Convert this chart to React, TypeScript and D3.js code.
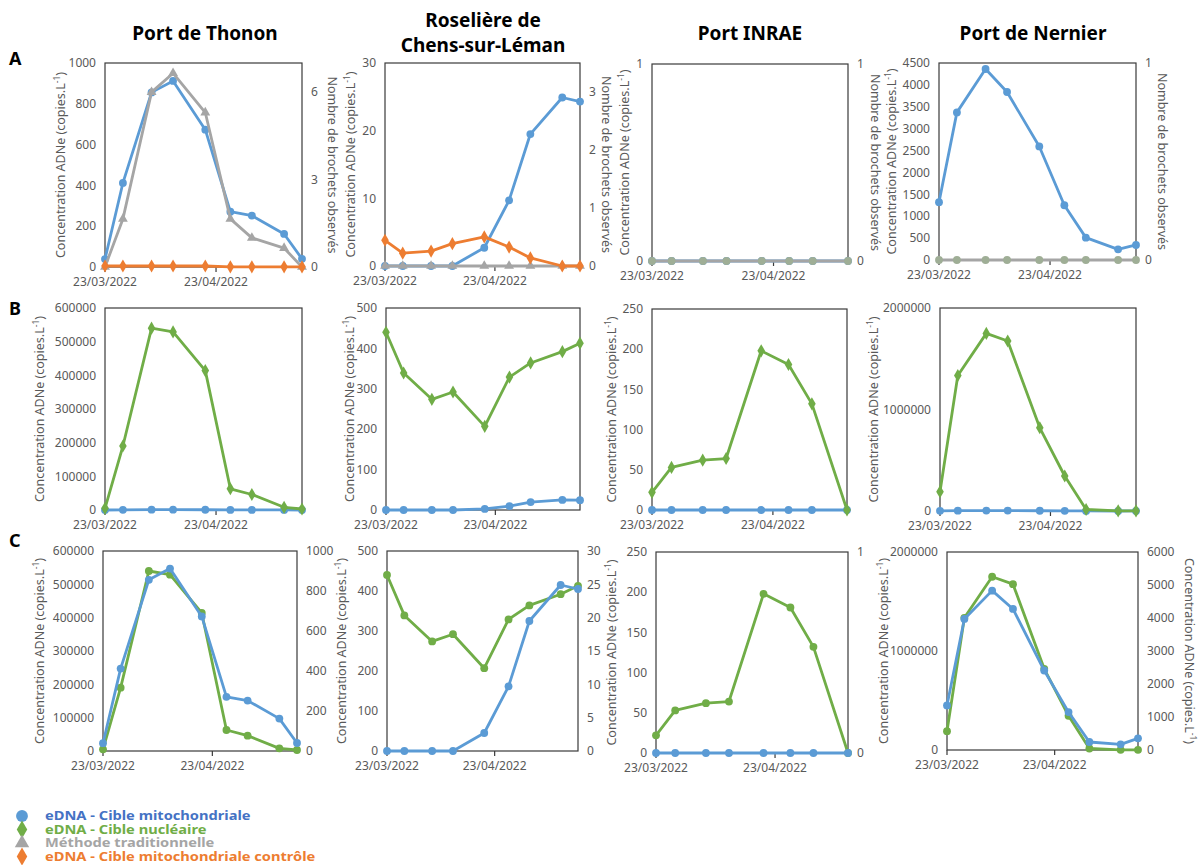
import * as d3 from 'd3';

const BLUE = '#5B9BD5';
const GREEN = '#70AD47';
const GREY = '#A5A5A5';
const ORANGE = '#ED7D31';
const FONT = '"Noto Sans", sans-serif';

const siteTitles = [['Port de Thonon'], ['Roselière de', 'Chens-sur-Léman'], ['Port INRAE'], ['Port de Nernier']];
const rowLetters = ['A', 'B', 'C'];

// sampling dates
const datesFull = ['2022-03-23', '2022-03-28', '2022-04-05', '2022-04-11', '2022-04-20', '2022-04-27', '2022-05-03', '2022-05-12', '2022-05-17'];
const datesInrae = ['2022-03-23', '2022-03-28', '2022-04-05', '2022-04-11', '2022-04-20', '2022-04-27', '2022-05-03', '2022-05-12'];
const dateTicks = ['2022-03-23', '2022-04-23'];

// Port de Thonon
const thononMito = [39, 412, 856, 912, 673, 271, 252, 162, 40];
const thononNuc = [5000, 190000, 540000, 529000, 414000, 63000, 46000, 8000, 3000];
const thononTrad = [0, 1.65, 6, 6.65, 5.3, 1.65, 1.0, 0.65, 0];
const thononCtrl = [5, 5, 5, 5, 5, 1, 1, 1, 1];

// Roselière de Chens-sur-Léman
const chensMito = [0, 0, 0, 0, 2.7, 9.7, 19.5, 24.9, 24.3];
const chensNuc = [440, 339, 274, 292, 207, 329, 364, 392, 413];
const chensTrad = [0, 0, 0, 0, 0, 0, 0, 0, 0];
const chensCtrl = [3.8, 1.9, 2.2, 3.3, 4.3, 2.8, 1.2, 0, 0];

// Port INRAE
const inraeMito = [0, 0, 0, 0, 0, 0, 0, 0];
const inraeNuc = [22, 53, 62, 64, 198, 181, 132, 0];
const inraeTrad = [0, 0, 0, 0, 0, 0, 0, 0];

// Port de Nernier
const nernierMito = [1320, 3372, 4363, 3837, 2594, 1251, 511, 244, 343];
const nernierMitoC = [1351, 3972, 4829, 4274, 2409, 1149, 242, 171, 353];
const nernierNuc = [190000, 1335000, 1750000, 1675000, 820000, 345000, 15000, 2000, 2000];
const nernierTrad = [0, 0, 0, 0, 0, 0, 0, 0, 0];

// y tick labels
const ticksThononA = [0, 200, 400, 600, 800, 1000];
const ticksThononTrad = [0, 3, 6];
const ticksChensA = [0, 10, 20, 30];
const ticksChensTrad = [0, 1, 2, 3];
const ticksUnit = [0, 1];
const ticksNernierA = [0, 500, 1000, 1500, 2000, 2500, 3000, 3500, 4000, 4500];
const ticksThononNuc = [0, 100000, 200000, 300000, 400000, 500000, 600000];
const ticksChensNuc = [0, 100, 200, 300, 400, 500];
const ticksInraeNuc = [0, 50, 100, 150, 200, 250];
const ticksNernierNuc = [0, 1000000, 2000000];
const ticksThononC = [0, 200, 400, 600, 800, 1000];
const ticksChensC = [0, 5, 10, 15, 20, 25, 30];
const ticksNernierC = [0, 1000, 2000, 3000, 4000, 5000, 6000];

const legendItems = [
  { label: 'eDNA - Cible mitochondriale', color: BLUE, text: '#4472C4', shape: 'circle' },
  { label: 'eDNA - Cible nucléaire', color: GREEN, text: GREEN, shape: 'diamond' },
  { label: 'Méthode traditionnelle', color: GREY, text: GREY, shape: 'triangle' },
  { label: 'eDNA - Cible mitochondriale contrôle', color: ORANGE, text: ORANGE, shape: 'diamond' },
];

const parse = d3.timeParse('%Y-%m-%d');

const shapes: any = {
  circle: [d3.symbolCircle, 48],
  diamond: [d3.symbolDiamond, 50],
  triangle: [d3.symbolTriangle, 42],
};

const s = (values, axis, color, shape, markerColor?) => ({ values, axis, color, shape, markerColor: markerColor || color });

const panels = [
  // row A
  { x0: 105, x1: 302, y0: 63, y1: 267, dates: datesFull, left: [0, 1000], lt: ticksThononA, right: [0, 7], rt: ticksThononTrad,
    lTitle: ['conc', 44], rTitle: ['nombre', 30],
    series: [s(thononMito, 'l', BLUE, 'circle'), s(thononTrad, 'r', GREY, 'triangle'), s(thononCtrl, 'l', ORANGE, 'diamond')] },
  { x0: 385, x1: 580, y0: 63, y1: 266, dates: datesFull, left: [0, 30], lt: ticksChensA, right: [0, 3.5], rt: ticksChensTrad,
    lTitle: ['conc', 34], rTitle: ['nombre', 26],
    series: [s(chensMito, 'l', BLUE, 'circle'), s(chensTrad, 'r', GREY, 'triangle'), s(chensCtrl, 'l', ORANGE, 'diamond')] },
  { x0: 652, x1: 848, y0: 64, y1: 261, dates: datesInrae, left: [0, 1], lt: ticksUnit, right: [0, 1], rt: ticksUnit,
    lTitle: ['conc', 27], rTitle: ['nombre', 27],
    series: [s(inraeMito, 'l', BLUE, 'circle'), s(inraeTrad, 'r', GREY, 'circle', '#9FAE96')] },
  { x0: 939, x1: 1136, y0: 63, y1: 260, dates: datesFull, left: [0, 4500], lt: ticksNernierA, right: [0, 1], rt: ticksUnit,
    lTitle: ['conc', 47], rTitle: ['nombre', 26],
    series: [s(nernierMito, 'l', BLUE, 'circle'), s(nernierTrad, 'r', GREY, 'circle', '#9FAE96')] },
  // row B
  { x0: 105, x1: 302, y0: 308, y1: 510, dates: datesFull, left: [0, 600000], lt: ticksThononNuc,
    lTitle: ['conc', 65], series: [s(thononMito, 'l', BLUE, 'circle'), s(thononNuc, 'l', GREEN, 'diamond')] },
  { x0: 386, x1: 580, y0: 308, y1: 510, dates: datesFull, left: [0, 500], lt: ticksChensNuc,
    lTitle: ['conc', 36], series: [s(chensMito, 'l', BLUE, 'circle'), s(chensNuc, 'l', GREEN, 'diamond')] },
  { x0: 652, x1: 847, y0: 309, y1: 510, dates: datesInrae, left: [0, 250], lt: ticksInraeNuc,
    lTitle: ['conc', 40], series: [s(inraeMito, 'l', BLUE, 'circle'), s(inraeNuc, 'l', GREEN, 'diamond')] },
  { x0: 940, x1: 1136, y0: 308, y1: 511, dates: datesFull, left: [0, 2000000], lt: ticksNernierNuc,
    lTitle: ['conc', 66], series: [s(nernierMito, 'l', BLUE, 'circle'), s(nernierNuc, 'l', GREEN, 'diamond')] },
  // row C
  { x0: 103, x1: 297, y0: 551, y1: 751, dates: datesFull, left: [0, 600000], lt: ticksThononNuc, right: [0, 1000], rt: ticksThononC,
    lTitle: ['conc', 63], series: [s(thononNuc, 'l', GREEN, 'circle'), s(thononMito, 'r', BLUE, 'circle')] },
  { x0: 387, x1: 578, y0: 551, y1: 751, dates: datesFull, left: [0, 500], lt: ticksChensNuc, right: [0, 30], rt: ticksChensC,
    lTitle: ['conc', 45], series: [s(chensNuc, 'l', GREEN, 'circle'), s(chensMito, 'r', BLUE, 'circle')] },
  { x0: 656, x1: 848, y0: 552, y1: 753, dates: datesInrae, left: [0, 250], lt: ticksInraeNuc, right: [0, 1], rt: ticksUnit,
    lTitle: ['conc', 44], series: [s(inraeNuc, 'l', GREEN, 'circle'), s(inraeMito, 'r', BLUE, 'circle')] },
  { x0: 947, x1: 1138, y0: 552, y1: 750, dates: datesFull, left: [0, 2000000], lt: ticksNernierNuc, right: [0, 6000], rt: ticksNernierC,
    lTitle: ['conc', 63], rTitle: ['conc', 51],
    series: [s(nernierNuc, 'l', GREEN, 'circle'), s(nernierMitoC, 'r', BLUE, 'circle')] },
];

const tickColor = '#595959';

function AxisTitle({ kind, x, y, rotate }) {
  const common = { fontFamily: FONT, fontSize: 12.5, fill: tickColor, textAnchor: 'middle' as const };
  return (
    <text transform={`translate(${x},${y}) rotate(${rotate})`} dy="0.35em" {...common}>
      {kind === 'conc' ? (
        <>
          Concentration ADNe (copies.L<tspan fontSize={8.5} dy={-5}>-1</tspan>
          <tspan dy={5}>)</tspan>
        </>
      ) : (
        'Nombre de brochets observés'
      )}
    </text>
  );
}

function Panel({ p }) {
  const dates = p.dates.map(parse);
  const x = d3.scaleTime().domain([dates[0], dates[dates.length - 1]]).range([p.x0, p.x1]);
  const yl = d3.scaleLinear().domain(p.left).range([p.y1, p.y0]);
  const yr = p.right ? d3.scaleLinear().domain(p.right).range([p.y1, p.y0]) : null;
  const midY = (p.y0 + p.y1) / 2;
  const ticks = dateTicks.map(parse);

  return (
    <g>
      <rect x={p.x0} y={p.y0} width={p.x1 - p.x0} height={p.y1 - p.y0} fill="none" stroke="#3a3a3a" strokeWidth={1.2} />
      {p.lt.map((t) => (
        <text key={'l' + t} x={p.x0 - 9} y={yl(t)} dy="0.35em" textAnchor="end" fontFamily={FONT} fontSize={12} fill={tickColor}>
          {t}
        </text>
      ))}
      {yr &&
        p.rt.map((t) => (
          <text key={'r' + t} x={p.x1 + 9} y={yr(t)} dy="0.35em" textAnchor="start" fontFamily={FONT} fontSize={12} fill={tickColor}>
            {t}
          </text>
        ))}
      {ticks.map((t, i) => (
        <g key={'t' + i}>
          <line x1={x(t)} x2={x(t)} y1={p.y1} y2={p.y1 + 5} stroke="#3a3a3a" strokeWidth={1.2} />
          <text x={x(t)} y={p.y1 + 19} textAnchor="middle" fontFamily={FONT} fontSize={12} fill={tickColor}>
            {d3.timeFormat('%d/%m/%Y')(t)}
          </text>
        </g>
      ))}
      <AxisTitle kind={p.lTitle[0]} x={p.x0 - p.lTitle[1]} y={midY} rotate={-90} />
      {p.rTitle && <AxisTitle kind={p.rTitle[0]} x={p.x1 + p.rTitle[1]} y={midY} rotate={90} />}
      {p.series.map((se, i) => {
        const y = se.axis === 'r' ? yr : yl;
        const line = d3
          .line<number>()
          .x((_, j) => x(dates[j]))
          .y((v) => y(v));
        const [type, size] = shapes[se.shape];
        const sym = d3.symbol().type(type).size(size)();
        return (
          <g key={i}>
            <path d={line(se.values)} fill="none" stroke={se.color} strokeWidth={2.8} strokeLinejoin="round" />
            {se.values.map((v, j) => (
              <path key={j} d={sym} transform={`translate(${x(dates[j])},${y(v)})`} fill={se.markerColor} />
            ))}
          </g>
        );
      })}
    </g>
  );
}

export default function App() {
  const colCenters = [205, 483, 750, 1033];
  const rowLetterY = [65, 315, 547];
  const legendY = [816, 829.5, 843, 856.5];
  return (
    <div style={{ position: 'absolute', left: 0, top: 0 }}>
      <svg width={1204} height={865} style={{ display: 'block', background: '#fff' }}>
        {siteTitles.map((lines, i) =>
          lines.map((l, k) => (
            <text
              key={i + '-' + k}
              x={colCenters[i]}
              y={lines.length === 1 ? 40 : 27 + k * 25}
              textAnchor="middle"
              fontFamily={FONT}
              fontWeight="bold"
              fontSize={19}
              fill="#000"
            >
              {l}
            </text>
          ))
        )}
        {rowLetters.map((l, i) => (
          <text key={l} x={9} y={rowLetterY[i]} fontFamily={FONT} fontWeight="bold" fontSize={18} fill="#000">
            {l}
          </text>
        ))}
        {panels.map((p, i) => (
          <Panel key={i} p={p} />
        ))}
        {legendItems.map((it, i) => {
          const [type] = shapes[it.shape];
          const size = it.shape === 'circle' ? 110 : it.shape === 'diamond' ? 95 : 90;
          return (
            <g key={it.label} transform={`translate(0,${legendY[i]})`}>
              <path d={d3.symbol().type(type).size(size)()} transform="translate(22,0)" fill={it.color} />
              <text
                transform="translate(45,0) scale(1.22,1)"
                dy="0.35em"
                fontFamily={FONT}
                fontWeight="bold"
                fontSize={12}
                fill={it.text}
              >
                {it.label}
              </text>
            </g>
          );
        })}
      </svg>
    </div>
  );
}
